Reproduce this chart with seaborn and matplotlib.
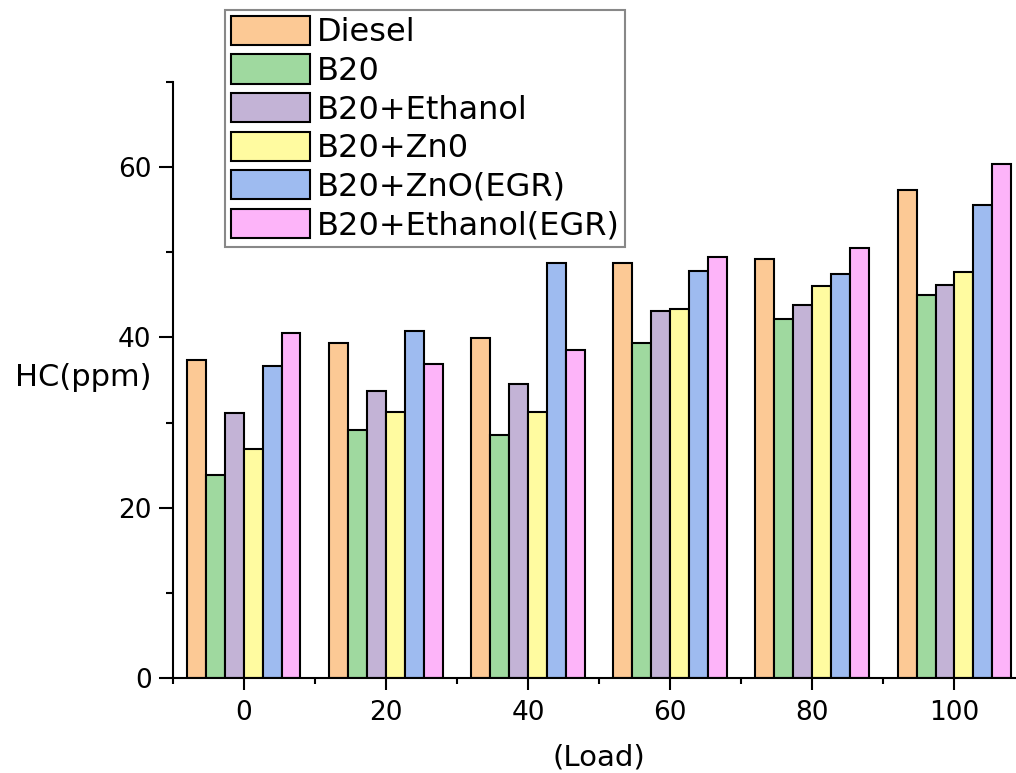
import matplotlib
matplotlib.use("Agg")
import matplotlib.pyplot as plt
import seaborn as sns
import pandas as pd
from matplotlib.ticker import FixedLocator

# values
loads = ["0", "20", "40", "60", "80", "100"]
fuels = ["Diesel", "B20", "B20+Ethanol", "B20+Zn0", "B20+ZnO(EGR)", "B20+Ethanol(EGR)"]
diesel = [37.3, 39.4, 39.9, 48.8, 49.2, 57.3]
b20 = [23.8, 29.1, 28.5, 39.3, 42.2, 45.0]
b20_ethanol = [31.1, 33.7, 34.5, 43.1, 43.8, 46.2]
b20_zno = [26.9, 31.3, 31.3, 43.3, 46.0, 47.7]
b20_zno_egr = [36.7, 40.7, 48.8, 47.8, 47.4, 55.5]
b20_ethanol_egr = [40.5, 36.9, 38.5, 49.5, 50.5, 60.4]
colors = ["#FCC995", "#9FD99F", "#C3B3D6", "#FFFBA0", "#9EBBF0", "#FDB4F9"]

series = [diesel, b20, b20_ethanol, b20_zno, b20_zno_egr, b20_ethanol_egr]
rows = []
for fuel, vals in zip(fuels, series):
    for load, v in zip(loads, vals):
        rows.append({"Load": load, "Fuel": fuel, "HC": v})
df = pd.DataFrame(rows)

sns.set_style("ticks", {"axes.edgecolor": "black", "xtick.color": "black",
                        "ytick.color": "black", "text.color": "black",
                        "axes.labelcolor": "black"})
plt.rcParams["font.family"] = ["DejaVu Sans"]

fig = plt.figure(figsize=(10.16, 7.73), dpi=100)
ax = fig.add_axes([0.1698, 0.1229, 0.8396, 0.771])

sns.barplot(data=df, x="Load", y="HC", hue="Fuel", order=loads, hue_order=fuels,
            palette=colors, edgecolor="black", linewidth=1.5, saturation=1,
            width=0.8, gap=0, ax=ax)

ax.set_xlim(-0.5, 5.5)
ax.set_ylim(0, 70)
ax.set_yticks([0, 20, 40, 60])
ax.yaxis.set_minor_locator(FixedLocator([10, 30, 50, 70]))
ax.xaxis.set_minor_locator(FixedLocator([-0.5, 0.5, 1.5, 2.5, 3.5, 4.5]))

for s in ["top", "right"]:
    ax.spines[s].set_visible(False)
for s in ["left", "bottom"]:
    ax.spines[s].set_linewidth(1.5)

ax.tick_params(axis="x", which="major", direction="out", length=8.5, width=1.5, pad=7,
               labelsize=19, labelcolor="black")
ax.tick_params(axis="x", which="minor", direction="out", length=4.5, width=1.5)
ax.tick_params(axis="y", which="major", direction="out", length=10, width=1.5, pad=5,
               labelsize=19, labelcolor="black")
ax.tick_params(axis="y", which="minor", direction="out", length=5, width=1.5)

ax.set_ylabel("HC(ppm)", rotation=0, fontsize=22, ha="center", va="center", color="black")
ax.yaxis.set_label_coords(-0.1043, 0.505)
ax.set_xlabel("(Load)", fontsize=21, va="center", color="black")
ax.xaxis.set_label_coords(0.5, -0.1326)

sns.move_legend(ax, "upper left", bbox_to_anchor=(0.2215, 0.987),
                bbox_transform=fig.transFigure, title=None, frameon=True,
                fancybox=False, fontsize=23, handlelength=2.48, handleheight=1.03,
                labelspacing=0.19, handletextpad=0.2, borderpad=0.18,
                borderaxespad=0)
leg = ax.get_legend()
leg.get_frame().set_edgecolor("#888888")
leg.get_frame().set_linewidth(1.5)
leg.get_frame().set_alpha(1)
for p in leg.get_patches():
    p.set_edgecolor("black")
    p.set_linewidth(1.5)
for t in leg.get_texts():
    t.set_color("black")

fig.savefig("out.png", dpi=100)
